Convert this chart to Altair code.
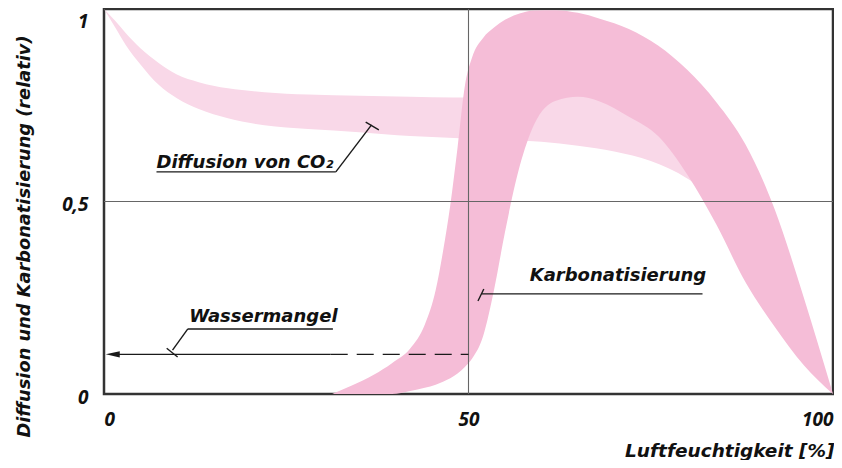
import altair as alt
import pandas as pd

# ---- data ----
light_x = [0, 1.5, 3, 5, 7.5, 10, 13, 17, 22, 28, 35, 42, 48, 54, 60, 65, 70, 75, 80, 84, 88, 92, 96, 100]
light_upper = [1.0, 0.97, 0.937, 0.898, 0.86, 0.83, 0.81, 0.794, 0.784, 0.778, 0.775, 0.772, 0.77, 0.77,
               0.78, 0.79, 0.79, 0.77, 0.70, 0.57, 0.42, 0.28, 0.13, 0.0]
light_lower = [1.0, 0.953, 0.906, 0.856, 0.803, 0.768, 0.74, 0.716, 0.698, 0.688, 0.68, 0.67, 0.665, 0.66,
               0.655, 0.645, 0.63, 0.605, 0.56, 0.50, 0.36, 0.22, 0.10, 0.0]

dark_x = [31.3, 34, 37, 39.5, 42, 44, 45.5, 46.5, 47.5, 48.5, 49.5, 50.5, 52, 53.5, 55, 57, 59, 62, 65, 68,
          72, 76, 80, 84, 88, 92, 96, 100]
dark_upper = [0, 0.022, 0.05, 0.08, 0.118, 0.18, 0.27, 0.37, 0.49, 0.64, 0.80, 0.875, 0.925, 0.952, 0.972,
              0.988, 0.996, 0.997, 0.99, 0.975, 0.948, 0.905, 0.842, 0.758, 0.648, 0.48, 0.25, 0]
dark_lower = [0, 0, 0, 0, 0.008, 0.016, 0.024, 0.032, 0.041, 0.053, 0.07, 0.092, 0.15, 0.27, 0.42, 0.59,
              0.70, 0.762, 0.772, 0.76, 0.72, 0.67, 0.57, 0.44, 0.29, 0.175, 0.075, 0]

x_ticks = [0, 50, 100]
y_ticks = [0, 0.5, 1]

grid_x1 = [50, 0]
grid_y1 = [0, 0.5]
grid_x2 = [50, 100]
grid_y2 = [1, 0.5]

ann_text = ["Diffusion von CO₂", "Karbonatisierung", "Wassermangel"]
ann_x = [7.2, 58.4, 11.7]
ann_y = [0.587, 0.294, 0.187]

seg_x1 = [7.2, 31.8, 35.9, 51.8, 51.3, 11.5, 11.5, 8.6, 1.5]
seg_y1 = [0.577, 0.577, 0.706, 0.26, 0.2416, 0.169, 0.169, 0.119, 0.103]
seg_x2 = [31.8, 36.7, 37.7, 82.1, 52.1, 31.4, 9.4, 10.1, 31.1]
seg_y2 = [0.577, 0.699, 0.686, 0.26, 0.2727, 0.169, 0.114, 0.096, 0.103]

dash_x1 = [31.1]
dash_y1 = [0.103]
dash_x2 = [50]
dash_y2 = [0.103]

arrow_x = [1.2]
arrow_y = [0.103]

TICK_FONT = "Open Sans"
TEXT_FONT = "DejaVu Sans"

light_df = pd.DataFrame({"x": light_x, "hi": light_upper, "lo": light_lower})
dark_df = pd.DataFrame({"x": dark_x, "hi": dark_upper, "lo": dark_lower})
grid_df = pd.DataFrame({"x": grid_x1, "y": grid_y1, "x2": grid_x2, "y2": grid_y2})
seg_df = pd.DataFrame({"x": seg_x1, "y": seg_y1, "x2": seg_x2, "y2": seg_y2})
dash_df = pd.DataFrame({"x": dash_x1, "y": dash_y1, "x2": dash_x2, "y2": dash_y2})
ann_df = pd.DataFrame({"t": ann_text, "x": ann_x, "y": ann_y})
arrow_df = pd.DataFrame({"x": arrow_x, "y": arrow_y})

W = 729
H = 385

xscale = alt.Scale(domain=[0, 100], nice=False, zero=False)
yscale = alt.Scale(domain=[0, 1], nice=False, zero=False)

xaxis = alt.Axis(
    values=x_ticks, grid=False, ticks=False, domain=False, labelFlush=True,
    labelFont=TICK_FONT, labelFontSize=19, labelFontWeight="bold", labelFontStyle="italic",
    labelColor="#111", labelPadding=16, labelBaseline="top",
    title="Luftfeuchtigkeit [%]", titleFont=TEXT_FONT, titleFontSize=18.5, titleFontWeight="bold",
    titleFontStyle="italic", titleColor="#111", titleAlign="right", titleAnchor="end",
    titleX=W + 1, titleY=62, titleBaseline="alphabetic",
)
yaxis = alt.Axis(
    values=y_ticks, grid=False, ticks=False, domain=False,
    labelExpr="replace(format(datum.value, ''), '.', ',')",
    labelFont=TICK_FONT, labelFontSize=19, labelFontWeight="bold", labelFontStyle="italic",
    labelColor="#111", labelPadding=16, labelOffset=3,
    labelBaseline=alt.ExprRef(expr="datum.value == 1 ? 'top' : 'middle'"),
    title="Diffusion und Karbonatisierung (relativ)", titleFont=TEXT_FONT, titleFontSize=17.8,
    titleFontWeight="bold", titleFontStyle="italic", titleColor="#111", titleAngle=270,
    titleAlign="center", titleBaseline="alphabetic", titleX=-75, titleY=227,
)

light = alt.Chart(light_df).mark_area(color="#f9d8e8", interpolate="monotone", opacity=1).encode(
    x=alt.X("x:Q", scale=xscale, axis=xaxis),
    y=alt.Y("hi:Q", scale=yscale, axis=yaxis),
    y2="lo:Q",
)
dark = alt.Chart(dark_df).mark_area(color="#f5bdd7", interpolate="monotone", opacity=1).encode(
    x=alt.X("x:Q", scale=xscale),
    y=alt.Y("hi:Q", scale=yscale),
    y2="lo:Q",
)
grid = alt.Chart(grid_df).mark_rule(color="#666666", strokeWidth=1.1).encode(
    x=alt.X("x:Q", scale=xscale), y=alt.Y("y:Q", scale=yscale), x2="x2:Q", y2="y2:Q"
)
segs = alt.Chart(seg_df).mark_rule(color="#1a1a1a", strokeWidth=1.4).encode(
    x=alt.X("x:Q", scale=xscale), y=alt.Y("y:Q", scale=yscale), x2="x2:Q", y2="y2:Q"
)
dashes = alt.Chart(dash_df).mark_rule(color="#1a1a1a", strokeWidth=1.4, strokeDash=[17, 9]).encode(
    x=alt.X("x:Q", scale=xscale), y=alt.Y("y:Q", scale=yscale), x2="x2:Q", y2="y2:Q"
)
arrow = alt.Chart(arrow_df).mark_point(
    shape="M-1,0L1,-0.45L1,0.45Z", filled=True, size=196, color="#1a1a1a", opacity=1
).encode(x=alt.X("x:Q", scale=xscale), y=alt.Y("y:Q", scale=yscale))
texts = alt.Chart(ann_df).mark_text(
    font=TEXT_FONT, fontSize=18, fontWeight="bold", fontStyle="italic", color="#111",
    align="left", baseline="alphabetic"
).encode(x=alt.X("x:Q", scale=xscale), y=alt.Y("y:Q", scale=yscale), text="t:N")

chart = alt.layer(light, dark, grid, dashes, segs, arrow, texts).properties(
    width=W, height=H,
    autosize=alt.AutoSizeParams(type="none"),
    padding={"left": 96, "top": 1, "right": 1, "bottom": 66},
    background="white",
).configure_view(stroke="#333333", strokeWidth=2.5)

chart.save("out.html", embed_options={"renderer": "svg", "actions": False})
